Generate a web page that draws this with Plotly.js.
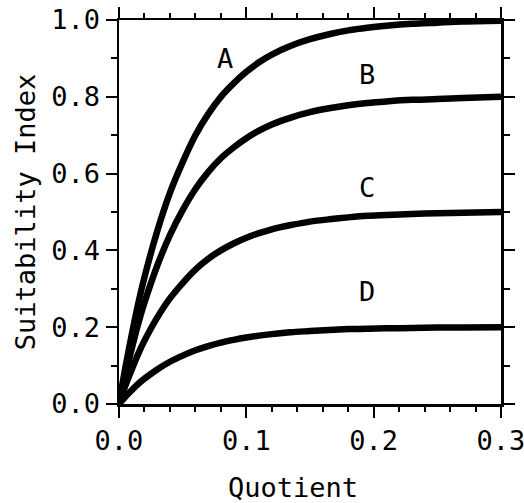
<!DOCTYPE html>
<html>
<head>
<meta charset="utf-8">
<script src="https://cdn.plot.ly/plotly-3.0.1.min.js"></script>
<style>html,body{margin:0;padding:0;background:#fff}#chart{width:524px;height:503px}</style>
</head>
<body>
<div id="chart"></div>
<script>
// Quotient values at which the curves were read
var quotient = [0, 0.005, 0.01, 0.015, 0.02, 0.03, 0.04, 0.05, 0.06, 0.07, 0.08, 0.09, 0.10, 0.11, 0.12, 0.135, 0.15, 0.165, 0.18, 0.195, 0.21, 0.23, 0.25, 0.27, 0.30];
// Suitability index
var curveA = [0, 0.095, 0.18, 0.26, 0.33, 0.45, 0.55, 0.63, 0.70, 0.755, 0.80, 0.835, 0.865, 0.89, 0.91, 0.933, 0.95, 0.963, 0.973, 0.98, 0.985, 0.99, 0.993, 0.996, 0.998];
var curveB = [0, 0.076, 0.144, 0.208, 0.264, 0.36, 0.44, 0.505, 0.56, 0.604, 0.64, 0.668, 0.692, 0.712, 0.728, 0.746, 0.76, 0.77, 0.778, 0.784, 0.788, 0.792, 0.794, 0.797, 0.80];
var curveC = [0, 0.048, 0.09, 0.13, 0.165, 0.225, 0.275, 0.315, 0.35, 0.378, 0.40, 0.418, 0.433, 0.445, 0.455, 0.466, 0.475, 0.481, 0.486, 0.49, 0.492, 0.495, 0.497, 0.498, 0.50];
var curveD = [0, 0.019, 0.036, 0.052, 0.066, 0.09, 0.11, 0.126, 0.14, 0.151, 0.16, 0.167, 0.173, 0.178, 0.182, 0.187, 0.19, 0.193, 0.195, 0.196, 0.197, 0.198, 0.199, 0.199, 0.20];
var curveNames = ['A', 'B', 'C', 'D'];
var labelX = [0.0835, 0.195, 0.195, 0.195];
var labelY = [0.90, 0.857, 0.565, 0.292];
var xTickVals = [0, 0.1, 0.2, 0.3];
var xTickText = ['0.0', '0.1', '0.2', '0.3'];
var yTickVals = [0, 0.2, 0.4, 0.6, 0.8, 1.0];
var yTickText = ['0.0', '0.2', '0.4', '0.6', '0.8', '1.0'];

var FONT = 'DejaVu Sans Mono, monospace';
var series = [curveA, curveB, curveC, curveD];
var traces = series.map(function (ys, i) {
  return {
    x: quotient, y: ys, type: 'scatter', mode: 'lines', name: curveNames[i],
    line: {color: '#000', width: 6.5, shape: 'spline', smoothing: 0.8},
    hoverinfo: 'skip', showlegend: false
  };
});
var annotations = curveNames.map(function (n, i) {
  return {x: labelX[i], y: labelY[i], xref: 'x', yref: 'y', text: n, showarrow: false,
          font: {family: FONT, size: 27, color: '#000'}};
});
// x-axis title, placed like the reference (slightly left of centre)
annotations.push({x: 293, y: -2, xref: 'paper', yref: 'paper', text: 'Quotient', showarrow: false,
  xanchor: 'center', yanchor: 'bottom', font: {family: FONT, size: 27, color: '#000'}});

var axisCommon = {
  showgrid: false, zeroline: false, showline: true, linecolor: '#000', linewidth: 2.5,
  mirror: 'allticks', ticks: 'outside', ticklen: 11, tickwidth: 2, tickcolor: '#000',
  tickfont: {family: FONT, size: 27, color: '#000'}, ticklabeloverflow: 'allow'
};
var layout = {
  width: 524, height: 503,
  margin: {l: 119, r: 23, t: 20, b: 99},
  paper_bgcolor: '#fff', plot_bgcolor: '#fff',
  showlegend: false,
  xaxis: Object.assign({}, axisCommon, {
    range: [0, 0.3], tickmode: 'array', tickvals: xTickVals, ticktext: xTickText,
    minor: {dtick: 0.02, ticklen: 5, tickwidth: 2, tickcolor: '#000', ticks: 'outside'}
  }),
  yaxis: Object.assign({}, axisCommon, {
    range: [0, 1.0], tickmode: 'array', tickvals: yTickVals, ticktext: yTickText,
    minor: {dtick: 0.1, ticklen: 6, tickwidth: 2, tickcolor: '#000', ticks: 'outside'},
    title: {text: 'Suitability Index', font: {family: FONT, size: 27, color: '#000'}, standoff: 8}
  }),
  annotations: annotations
};
// convert the title annotation's pixel position to paper units
var plotW = layout.width - layout.margin.l - layout.margin.r;
var plotH = layout.height - layout.margin.t - layout.margin.b;
var ttl = annotations[annotations.length - 1];
ttl.x = (ttl.x - layout.margin.l) / plotW;
ttl.y = -(layout.margin.b - ttl.y) / plotH;
Plotly.newPlot('chart', traces, layout, {displayModeBar: false, staticPlot: true});
</script>
</body>
</html>
